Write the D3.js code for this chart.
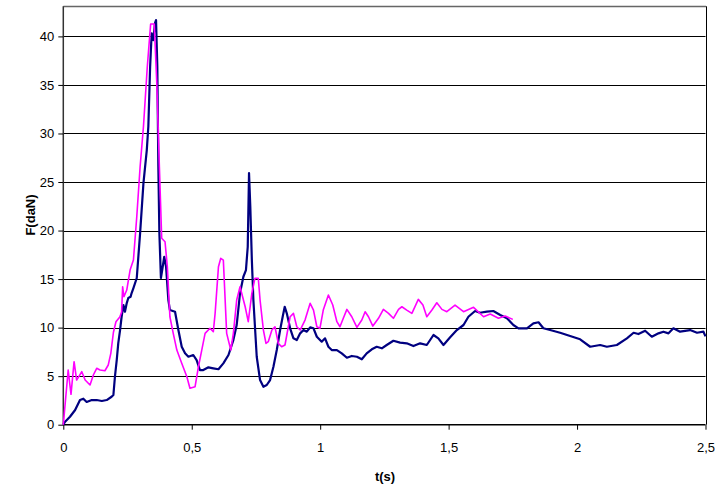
<!DOCTYPE html>
<html><head><meta charset="utf-8">
<script src="https://cdn.jsdelivr.net/npm/d3@7"></script>
<style>body{margin:0;background:#fff}svg{display:block}text{font-family:"Liberation Sans",Arial,sans-serif}</style>
</head><body><svg id="c" width="718" height="486"></svg>
<script>
const xTicks = [0, 0.5, 1, 1.5, 2, 2.5];
const xTickLabels = ["0", "0,5", "1", "1,5", "2", "2,5"];
const yTicks = [0, 5, 10, 15, 20, 25, 30, 35, 40];
const blueT = [0,0.007,0.026,0.046,0.065,0.078,0.091,0.111,0.130,0.150,0.169,0.188,0.195,0.201,0.208,0.214,0.221,0.227,0.234,0.240,0.247,0.253,0.262,0.266,0.273,0.286,0.299,0.312,0.325,0.331,0.338,0.344,0.350,0.357,0.361,0.366,0.370,0.374,0.380,0.387,0.393,0.400,0.409,0.415,0.435,0.448,0.461,0.474,0.487,0.506,0.519,0.532,0.545,0.565,0.584,0.604,0.623,0.643,0.662,0.675,0.688,0.701,0.711,0.718,0.723,0.728,0.734,0.740,0.753,0.766,0.779,0.792,0.805,0.818,0.831,0.844,0.854,0.862,0.870,0.883,0.896,0.909,0.922,0.935,0.948,0.961,0.974,0.987,1.006,1.019,1.032,1.045,1.065,1.084,1.104,1.123,1.143,1.162,1.181,1.201,1.220,1.240,1.259,1.285,1.311,1.337,1.363,1.389,1.415,1.441,1.460,1.480,1.506,1.532,1.558,1.577,1.603,1.622,1.649,1.674,1.701,1.727,1.752,1.772,1.805,1.830,1.850,1.869,1.895,1.934,1.973,2.012,2.051,2.090,2.116,2.155,2.194,2.220,2.239,2.265,2.291,2.317,2.336,2.356,2.375,2.401,2.440,2.467,2.492,2.5];
const blueF = [0,0.31,0.82,1.51,2.54,2.68,2.34,2.54,2.54,2.44,2.54,2.88,3.06,4.94,6.66,8.41,9.75,11.12,12.33,11.64,12.53,13.05,13.18,13.56,14.08,15.11,19.74,24.89,28.29,30.69,36.87,40.31,39.62,41.37,41.68,36.87,26.57,19.74,15.11,16.27,17.30,16.27,12.84,11.81,11.64,9.75,8.03,7.35,7.00,7.18,6.66,5.63,5.63,5.91,5.81,5.71,6.32,7.18,8.72,10.27,13.56,15.24,15.93,18.33,25.92,22.45,16.96,12.84,7.00,4.60,3.91,4.09,4.60,5.97,7.69,9.75,11.12,12.15,11.47,9.93,8.90,8.72,9.41,9.75,9.58,10.03,9.93,9.06,8.55,8.90,8.03,7.69,7.69,7.35,6.90,7.08,7.00,6.74,7.35,7.77,8.03,7.87,8.21,8.65,8.45,8.38,8.10,8.38,8.21,9.24,8.90,8.21,9.00,9.75,10.27,11.12,11.71,11.53,11.64,11.71,11.30,10.96,10.27,9.93,9.93,10.44,10.55,9.93,9.75,9.47,9.13,8.80,8.03,8.21,8.03,8.21,8.90,9.47,9.34,9.68,9.06,9.41,9.58,9.41,9.93,9.58,9.75,9.47,9.58,9.1];
const pinkT = [0,0.019,0.030,0.042,0.052,0.072,0.085,0.104,0.117,0.130,0.143,0.162,0.175,0.185,0.195,0.205,0.220,0.227,0.231,0.236,0.247,0.260,0.273,0.286,0.299,0.312,0.327,0.340,0.354,0.364,0.374,0.383,0.396,0.405,0.415,0.428,0.442,0.461,0.481,0.493,0.513,0.526,0.539,0.552,0.571,0.584,0.591,0.604,0.613,0.623,0.636,0.652,0.662,0.675,0.688,0.708,0.720,0.734,0.746,0.759,0.766,0.779,0.789,0.798,0.812,0.824,0.837,0.850,0.863,0.883,0.896,0.909,0.922,0.941,0.961,0.974,0.987,0.999,1.012,1.032,1.049,1.065,1.077,1.090,1.104,1.123,1.143,1.162,1.175,1.188,1.205,1.227,1.246,1.266,1.285,1.305,1.318,1.337,1.357,1.382,1.400,1.415,1.435,1.454,1.474,1.493,1.525,1.558,1.597,1.636,1.662,1.694,1.720,1.75];
const pinkF = [0,5.63,3.13,6.49,4.60,5.46,4.60,4.09,5.12,5.81,5.63,5.56,6.15,7.35,9.5,10.6,11.1,11.6,14.21,13.18,13.87,15.93,16.96,21.42,26.57,30.69,36.87,41.27,41.27,35.16,26.57,19.20,18.85,16.27,11.12,9.41,7.69,6.32,4.94,3.75,3.91,5.97,7.69,9.41,9.93,9.58,11.47,16.27,17.14,16.96,9.41,7.69,9.41,12.84,14.21,12.15,10.61,13.53,15.08,15.08,12.84,9.75,8.38,8.55,9.75,10.09,8.38,8.03,8.21,11.12,11.47,10.09,9.75,10.78,12.50,11.81,10.09,9.93,11.81,13.36,12.33,10.61,10.09,10.96,11.88,11.12,10.03,10.78,11.64,11.12,10.16,10.96,11.88,11.47,10.96,11.88,12.15,11.81,11.47,12.91,12.33,11.12,11.81,12.56,11.88,11.64,12.33,11.64,12.09,11.12,11.40,10.96,11.19,10.85];

const svg = d3.select("#c");
const L = 63.3, R = 705.5, B = 424.7, T = 6.3, yMax = 43.1;
const x = d3.scaleLinear().domain([0, 2.5]).range([L, R]);
const y = d3.scaleLinear().domain([0, yMax]).range([B, T]);

// gridlines
svg.append("g").selectAll("line").data(yTicks.filter(d => d > 0)).join("line")
  .attr("x1", L).attr("x2", R)
  .attr("y1", d => Math.round(y(d)) + 0.5).attr("y2", d => Math.round(y(d)) + 0.5)
  .attr("stroke", "#000").attr("stroke-width", 1);

// plot border top/right
svg.append("line").attr("x1", L).attr("x2", R + 0.5).attr("y1", Math.round(T) + 0.5).attr("y2", Math.round(T) + 0.5).attr("stroke", "#666").attr("stroke-width", 1.5);
svg.append("line").attr("x1", Math.round(R) + 0.5).attr("x2", Math.round(R) + 0.5).attr("y1", T).attr("y2", B).attr("stroke", "#000").attr("stroke-width", 1);

// axes
const yAxis = d3.axisLeft(y).tickValues(yTicks).tickSize(5).tickPadding(4).tickFormat(d3.format("d"));
const gy = svg.append("g").attr("transform", `translate(${L},0)`).call(yAxis);
gy.select(".domain").attr("stroke", "#333").attr("stroke-width", 1.5).attr("d", `M0,${T}V${B}`);
gy.selectAll(".tick line").attr("stroke", "#000");
gy.selectAll("text").attr("font-size", 13).attr("fill", "#000").attr("font-family", "Liberation Sans, Arial, sans-serif");

const xAxis = d3.axisBottom(x).tickValues(xTicks).tickSize(5).tickPadding(13).tickFormat((d, i) => xTickLabels[i]);
const gx = svg.append("g").attr("transform", `translate(0,${B})`).call(xAxis);
gx.select(".domain").attr("stroke", "#000").attr("stroke-width", 1.5).attr("d", `M${L},0H${R}`);
gx.selectAll(".tick line").attr("stroke", "#000");
gx.selectAll("text").attr("font-size", 13).attr("fill", "#000").attr("font-family", "Liberation Sans, Arial, sans-serif");

// lines
const line = d3.line().x(d => x(d[0])).y(d => y(d[1]));
svg.append("path").datum(blueT.map((t, i) => [t, blueF[i]]))
  .attr("d", line).attr("fill", "none").attr("stroke", "#000080").attr("stroke-width", 2.2).attr("stroke-linejoin", "round");
svg.append("path").datum(pinkT.map((t, i) => [t, pinkF[i]]))
  .attr("d", line).attr("fill", "none").attr("stroke", "#FF00FF").attr("stroke-width", 1.6).attr("stroke-linejoin", "round");

// axis titles
svg.append("text").attr("x", 385).attr("y", 481).attr("text-anchor", "middle")
  .attr("font-size", 13).attr("font-weight", "bold").text("t(s)");
svg.append("text").attr("transform", "translate(35,215) rotate(-90)").attr("text-anchor", "middle")
  .attr("font-size", 13).attr("font-weight", "bold").text("F(daN)");
</script></body></html>
